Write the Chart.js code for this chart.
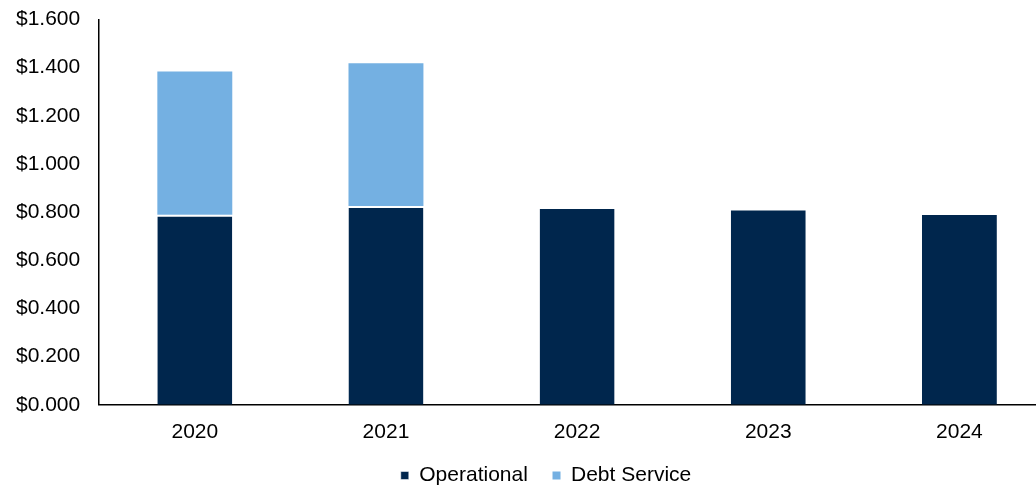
<!DOCTYPE html>
<html>
<head>
<meta charset="utf-8">
<script src="https://cdn.jsdelivr.net/npm/chart.js@4/dist/chart.umd.min.js"></script>
<style>
  html, body { margin: 0; padding: 0; background: #fff; overflow: hidden; }
  #wrap { width: 1088px; height: 487px; }
</style>
</head>
<body>
<div id="wrap"><canvas id="chart" width="1088" height="487"></canvas></div>
<script>
const anos = ['2020', '2021', '2022', '2023', '2024'];
const operacional = [0.789, 0.825, 0.821, 0.815, 0.796];
const servicoDivida = [0.595, 0.593, null, null, null];
const ticksY = [0, 0.2, 0.4, 0.6, 0.8, 1.0, 1.2, 1.4, 1.6];

const cores = {
    escuro: '#00264d',
    claro: '#74b0e2',
    texto: '#000000'
};

const fonte = { family: 'Arial, "Liberation Sans", sans-serif', size: 21 };

// empurra a legenda um pouco para a direita
const deslocaLegenda = {
    id: 'deslocaLegenda',
    afterLayout(chart) {
        chart.legend.left += 16;
        chart.legend.right += 16;
    }
};

new Chart(document.getElementById('chart'), {
    type: 'bar',
    plugins: [deslocaLegenda],
    data: {
        labels: anos,
        datasets: [
            {
                label: 'Operational',
                data: operacional,
                backgroundColor: cores.escuro,
                borderColor: '#ffffff',
                borderWidth: { top: 2, left: 0, right: 0, bottom: 0 },
                borderSkipped: 'start'
            },
            {
                label: 'Debt Service',
                data: servicoDivida,
                backgroundColor: cores.claro,
                borderWidth: 0
            }
        ]
    },
    options: {
        responsive: false,
        animation: false,
        layout: { padding: { top: -12, left: 5, right: 33, bottom: -9 } },
        datasets: {
            bar: { categoryPercentage: 1, barPercentage: 0.392 }
        },
        plugins: {
            tooltip: { enabled: false },
            legend: {
                position: 'bottom',
                labels: {
                    color: cores.texto,
                    font: fonte,
                    boxWidth: 8,
                    boxHeight: 8,
                    padding: 13,
                    // espaço extra entre os itens da legenda
                    generateLabels: (chart) => {
                        const itens = Chart.defaults.plugins.legend.labels.generateLabels(chart);
                        return itens.map((it, i) => i < itens.length - 1 ? { ...it, text: it.text + '  ' } : it);
                    }
                }
            }
        },
        scales: {
            x: {
                stacked: true,
                grid: { display: false },
                border: { display: true, color: '#000', width: 1.5 },
                ticks: { color: cores.texto, font: fonte, padding: 7 }
            },
            y: {
                stacked: true,
                min: 0,
                max: 1.6,
                afterBuildTicks: (axis) => { axis.ticks = ticksY.map(v => ({ value: v })); },
                grid: { display: false },
                border: { display: true, color: '#000', width: 1.5 },
                ticks: {
                    color: cores.texto,
                    font: { ...fonte, lineHeight: 0.8 },
                    padding: 11,
                    callback: (v) => '$' + Number(v).toFixed(3)
                }
            }
        }
    }
});
</script>
</body>
</html>
